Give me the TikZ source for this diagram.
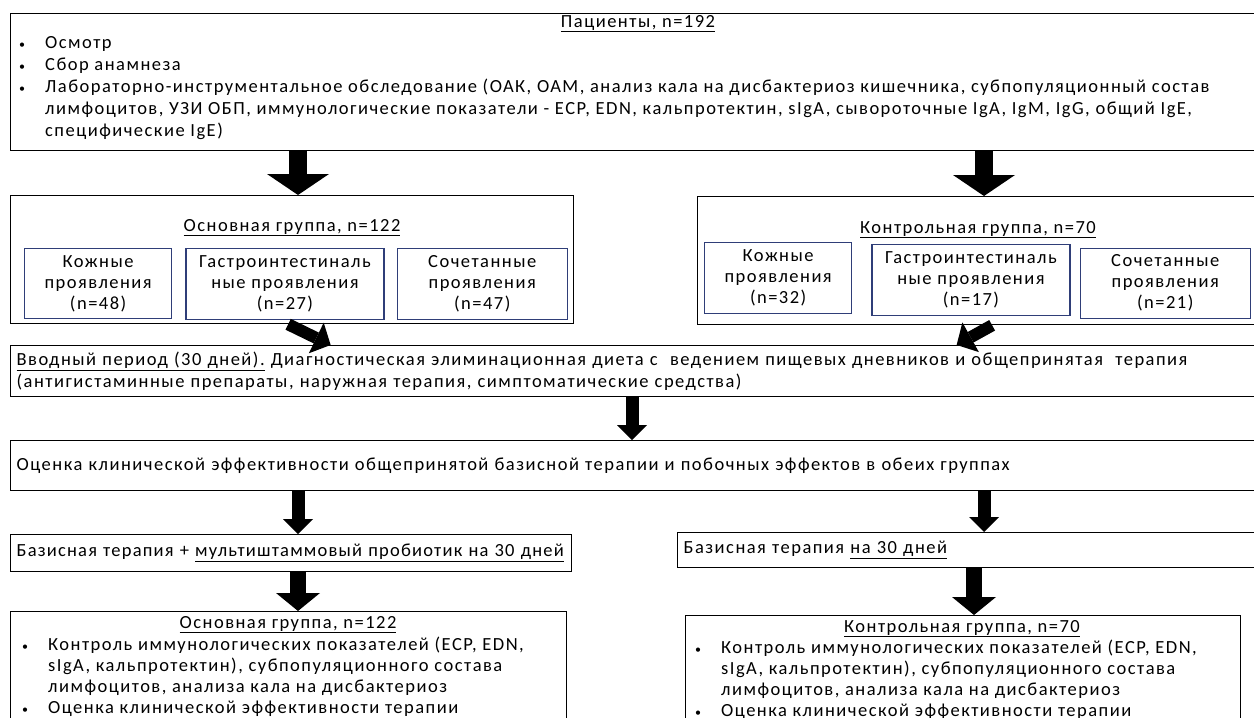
\documentclass[tikz,border=0pt]{standalone}
\usepackage{fontspec}
\setmainfont{Carlito}[LetterSpace=8.0]
\usetikzlibrary{arrows.meta,positioning}
\definecolor{subblue}{RGB}{47,62,120}
\newcommand{\newFrame}[6]{\node[frame,minimum width=#4,minimum height=#5,#6](#1) at (#2,#3) {};}
\newcommand{\newArrow}[3]{\draw[#3] (#1) -- (#2);}
\newcommand{\itm}{\makebox[26pt][l]{\fontsize{12pt}{12pt}\selectfont\textbullet}}
\newcommand{\cnt}{\hspace*{26pt}}

\begin{document}
\begin{tikzpicture}[
    % Pixel grid: x to the right, y downwards
    x=1pt, y=-1pt,
    font=\fontsize{18.5pt}{22pt}\selectfont,
    % Boxes
    frame/.style={draw, line width=1.3pt, anchor=north west, inner sep=0pt},
    sub/.style={draw=subblue, line width=1.3pt, align=center, anchor=north west,
      inner sep=0pt, font=\fontsize{18.5pt}{21pt}\selectfont},
    boxtext/.style={frame, align=left, inner xsep=6pt},
    txt/.style={anchor=north west, align=left, inner sep=0pt},
    title/.style={anchor=base, inner sep=0pt},
    % Block arrows
    bigArrow/.style={line width=18pt, -{Triangle[length=21pt,width=62pt,line width=0pt]}},
    midArrow/.style={line width=13pt, -{Triangle[length=15pt,width=30pt,line width=0pt]}},
    lowArrow/.style={line width=16pt, -{Triangle[length=18pt,width=44pt,line width=0pt]}},
    slantArrow/.style={line width=12pt, -{Triangle[length=16pt,width=34pt,line width=0pt]}}
    ]

    \fill[white] (0,0) rectangle (1254,718);
    \useasboundingbox (0,0) rectangle (1254,718);
    \clip (0,0) rectangle (1254,718);

    \coordinate (colL) at (298,0);
    \coordinate (colM) at (632,0);
    \coordinate (colR) at (984,0);
    \coordinate (colS) at (974,0);

    % Patients
    \newFrame{pat}{10}{13}{1252pt}{137pt}{}
    \node[title] (pat-t) at (638,27) {\underline{Пациенты, n=192}};
    \node[txt] (pat-l) at (19,36) {\itm Осмотр\\
      \itm Сбор анамнеза\\
      \itm Лабораторно-инструментальное обследование (ОАК, ОАМ, анализ кала на дисбактериоз кишечника, субпопуляционный состав\\
      \cnt лимфоцитов, УЗИ ОБП, иммунологические показатели - ECP, EDN, кальпротектин, sIgA, сывороточные IgA, IgM, IgG, общий IgE,\\
      \cnt специфические IgE)};

    % Main group
    \newFrame{osn}{10}{195}{563pt}{128pt}{}
    \node[title] (osn-t) at (292,231) {\underline{Основная группа, n=122}};
    \node[sub, minimum width=147pt, minimum height=70pt] (osn-k) at (24,248) {Кожные\\проявления\\(n=48)};
    \node[sub, minimum width=198pt, minimum height=71pt, right=13pt of osn-k] (osn-g) {Гастроинтестиналь\\ные проявления\\(n=27)};
    \node[sub, minimum width=170pt, minimum height=71pt, right=12pt of osn-g] (osn-s) {Сочетанные\\проявления\\(n=47)};

    % Control group
    \newFrame{kon}{697}{196}{565pt}{128pt}{}
    \node[title] (kon-t) at (978,233) {\underline{Контрольная группа, n=70}};
    \node[sub, minimum width=147pt, minimum height=71pt] (kon-k) at (704,242) {Кожные\\проявления\\(n=32)};
    \node[sub, minimum width=198pt, minimum height=71pt, right=19pt of kon-k, yshift=-2pt] (kon-g) {Гастроинтестиналь\\ные проявления\\(n=17)};
    \node[sub, minimum width=170pt, minimum height=70pt, right=9pt of kon-g, yshift=-3pt] (kon-s) {Сочетанные\\проявления\\(n=21)};

    % Run-in period and evaluation
    \node[boxtext, text width=1240pt, minimum height=51pt] (vvod) at (10,345) {\underline{Вводный период (30 дней).} Диагностическая элиминационная диета с~ ведением пищевых дневников и общепринятая~ терапия\\(антигистаминные препараты, наружная терапия, симптоматические средства)};
    \node[boxtext, text width=1240pt, minimum height=50pt] (ocen) at (10,440) {Оценка клинической эффективности общепринятой базисной терапии и побочных эффектов в обеих группах};

    % Therapy
    \node[boxtext, text width=549pt, minimum height=37pt] (basL) at (10,534) {\addfontfeature{LetterSpace=6.5}Базисная терапия + \underline{мультиштаммовый пробиотик на 30 дней}};
    \node[boxtext, text width=573pt, minimum height=35pt] (basR) at (677,532) {Базисная терапия \underline{на 30 дней}};

    % Results
    \newFrame{resL}{10}{611}{556pt}{130pt}{}
    \node[title] (resL-t) at (288,628) {\underline{Основная группа, n=122}};
    \node[txt, font=\fontsize{18.5pt}{21pt}\selectfont] (resL-l) at (22,637) {\itm Контроль иммунологических показателей (ECP, EDN,\\
      \cnt sIgA, кальпротектин), субпопуляционного состава\\
      \cnt лимфоцитов, анализа кала на дисбактериоз\\
      \itm Оценка клинической эффективности терапии};
    \newFrame{resR}{685}{615}{555pt}{130pt}{}
    \node[title] (resR-t) at (962,632) {\underline{Контрольная группа, n=70}};
    \node[txt, font=\fontsize{18.5pt}{21pt}\selectfont] (resR-l) at (695,640) {\itm Контроль иммунологических показателей (ECP, EDN,\\
      \cnt sIgA, кальпротектин), субпопуляционного состава\\
      \cnt лимфоцитов, анализа кала на дисбактериоз\\
      \itm Оценка клинической эффективности терапии};

    % Arrows
    \newArrow{pat.south -| colL}{osn.north -| colL}{bigArrow}
    \newArrow{pat.south -| colR}{kon.north -| colR}{bigArrow}
    \draw[slantArrow] ([xshift=-4pt]osn.south) -- ([xshift=-306pt]vvod.north);
    \draw[slantArrow] ([xshift=12pt]kon.south) -- ([xshift=320pt]vvod.north);
    \newArrow{vvod.south -| colM}{ocen.north -| colM}{midArrow}
    \newArrow{ocen.south -| colL}{basL.north -| colL}{midArrow}
    \newArrow{ocen.south -| colR}{basR.north -| colR}{midArrow}
    \newArrow{basL.south -| colL}{resL.north -| colL}{lowArrow}
    \newArrow{basR.south -| colS}{resR.north -| colS}{lowArrow}
  \end{tikzpicture}
\end{document}
